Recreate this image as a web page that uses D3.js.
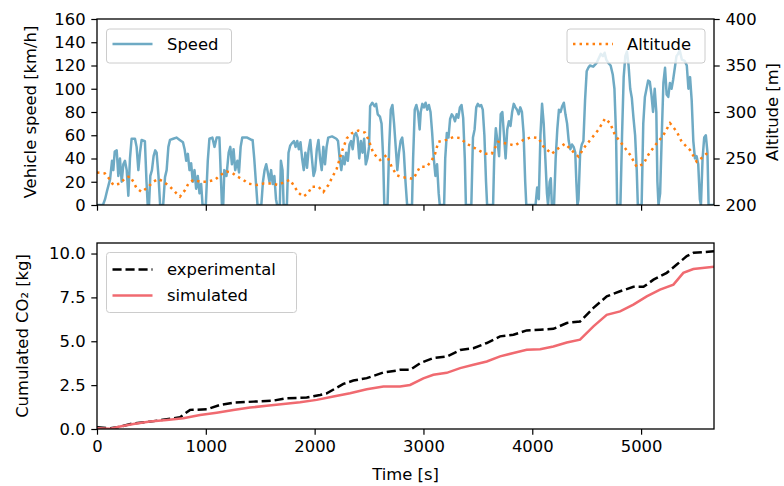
<!DOCTYPE html>
<html>
<head>
<meta charset="utf-8">
<script src="https://cdn.jsdelivr.net/npm/d3@7"></script>
<style>
  body { margin: 0; background: #fff; }
  text { font-family: "DejaVu Sans", sans-serif; fill: #000; }
</style>
</head>
<body>
<div id="chart"></div>
<script>
// Speed [time s, km/h]
var speedSamples = [
  [0,0],[55,0],[74,5],[92,12],[120,22],[138,38],[150,30],[163,46],[181,47],[196,25],[211,40],[227,20],[242,35],[257,38],[273,30],[288,8],[303,40],[318,57],[349,57],[364,50],[380,30],[395,45],[410,56],[440,55],[455,20],[466,0],[478,0],[490,25],[505,30],[520,42],[535,47],[548,45],[565,25],[580,0],[608,0],[625,24],[640,30],[656,50],[671,56],[700,57],[730,58],[760,56],[790,54],[805,48],[820,38],[835,44],[850,30],[865,36],[880,20],[896,30],[911,14],[926,25],[942,10],[957,18],[970,0],[1000,0],[1018,38],[1033,57],[1060,58],[1080,50],[1100,58],[1125,58],[1140,20],[1148,0],[1160,0],[1170,30],[1190,25],[1210,45],[1225,50],[1240,35],[1255,48],[1270,30],[1290,38],[1305,28],[1320,50],[1335,58],[1380,58],[1420,56],
  [1430,56],[1445,40],[1460,20],[1475,0],[1510,0],[1525,20],[1540,30],[1555,35],[1570,28],[1585,20],[1600,30],[1615,18],[1630,25],[1645,5],[1655,0],[1680,0],[1690,38],[1705,30],[1715,0],[1745,0],[1760,45],[1775,51],[1790,53],[1810,55],[1825,50],[1840,55],[1855,48],[1870,54],[1885,40],[1900,30],[1915,45],[1930,32],[1945,48],[1960,56],[1975,40],[1990,25],[2005,30],[2020,48],[2035,56],[2050,40],[2065,30],[2080,50],[2095,35],[2110,50],[2125,58],[2160,59],[2200,57],[2215,55],[2230,40],[2245,30],[2260,42],[2275,35],[2290,45],[2305,38],[2320,52],[2335,55],[2350,48],[2365,60],[2380,62],[2395,58],[2410,40],[2425,55],[2440,45],[2455,57],[2470,35],[2485,40],[2500,50],[2510,85],[2530,88],[2550,85],[2565,87],[2580,78],[2600,76],[2615,70],[2630,40],[2640,0],[2670,0],[2685,50],[2700,82],[2715,86],[2730,70],[2745,50],[2760,30],[2775,45],[2790,55],[2805,58],[2820,45],[2835,20],[2850,0],
  [2895,0],[2905,40],[2920,82],[2935,86],[2950,80],[2965,65],[2975,80],[2990,87],[3005,84],[3020,88],[3035,82],[3050,86],[3065,80],[3080,62],[3095,40],[3110,25],[3125,35],[3140,10],[3150,0],[3190,0],[3200,40],[3215,62],[3230,58],[3245,74],[3260,78],[3275,76],[3290,72],[3305,78],[3320,75],[3335,84],[3350,86],[3365,75],[3380,40],[3390,0],[3440,0],[3455,58],[3470,65],[3485,84],[3500,87],[3515,85],[3530,86],[3545,82],[3560,60],[3575,20],[3585,0],[3640,0],[3650,40],[3665,66],[3680,55],[3695,42],[3710,78],[3725,80],[3740,60],[3755,40],[3770,65],[3785,72],[3800,68],[3815,80],[3830,87],[3845,84],[3860,82],[3875,78],[3890,84],[3905,80],[3920,62],[3935,20],[3945,0],[4030,0],[4045,15],[4060,5],[4075,60],[4090,87],[4105,70],[4120,40],[4135,10],[4145,0],[4160,20],[4170,23],[4180,0],[4200,0],[4215,40],[4230,65],[4245,82],[4260,80],
  [4275,85],[4290,88],[4305,78],[4320,70],[4335,55],[4350,48],[4365,52],[4380,50],[4395,45],[4405,20],[4415,0],[4425,5],[4440,45],[4455,52],[4470,55],[4485,90],[4500,115],[4515,118],[4530,120],[4560,119],[4590,122],[4610,126],[4630,130],[4650,128],[4665,131],[4680,125],[4700,122],[4720,120],[4740,112],[4755,100],[4770,60],[4780,0],[4810,0],[4825,60],[4840,110],[4855,128],[4870,132],[4885,120],[4900,100],[4915,92],[4930,75],[4945,60],[4960,30],[4970,0],[5005,0],[5020,70],[5035,93],[5050,100],[5065,107],[5080,106],[5095,95],[5110,80],[5125,100],[5140,80],[5150,20],[5160,0],[5175,10],[5190,60],[5205,105],[5220,118],[5235,95],[5250,93],[5265,105],[5280,100],[5295,108],[5310,118],[5325,128],[5340,130],[5355,133],[5375,125],[5400,124],[5420,120],[5435,100],[5450,110],[5465,90],[5480,55],[5495,40],[5510,42],[5525,35],[5540,5],[5550,0],[5565,40],[5580,58],[5595,60],[5610,45],[5620,0],[5670,0]
];

// Altitude [time s, m]
var altitudeSamples = [
  [0,235],[73,234],[120,227],[150,221.5],[211,223],[257,228.7],[303,231],[334,225],[364,218],[410,214],[472,219.7],[518,225],[564,228],[610,225],[671,219.7],[717,214],[763,209],[809,216],[840,223],[885,227],[947,225],[1008,225],[1084,227],[1130,232],[1192,236],[1238,235],[1283,231],[1345,227],[1391,223],[1468,221.5],[1529,223],[1605,223],[1667,221.5],[1728,225],[1774,227],[1805,221.5],[1851,213],[1896,209],[1942,213],[1973,219.7],[2034,219.7],[2080,214],[2126,221.5],[2157,228.7],[2203,239],[2249,257],[2295,271.7],[2341,277],[2402,280],[2463,277.8],[2494,270.6],[2540,255.6],[2601,248.4],[2662,253.8],[2708,241],[2754,232],[2800,230],[2861,229],[2907,228],[2968,241],[3030,241],[3076,248],[3107,255],[3137,268],[3213,270],[3275,273],[3336,272],[3397,266],[3443,263],[3505,259],[3566,255],[3627,255],[3688,268],[3765,266],[3841,264],[3918,270],[3995,273],[4056,272],[4102,263],[4179,255],[4240,261],[4301,266],[4378,257],[4424,252],[4485,263],[4547,272],[4608,281],[4669,293],[4715,288],[4761,275],[4822,266],[4899,254],[4960,241],[5021,244],[5067,254],[5128,264],[5205,275],[5266,288],[5327,279],[5373,268],[5450,259],[5511,246.6],[5572,252],[5618,257]
];

// Cumulated CO2 [time s, kg]
var co2Experimental = [
  [0,0.1],[123,0.04],[212,0.13],[334,0.32],[487,0.42],[640,0.55],[763,0.67],[855,1.09],[1008,1.12],[1131,1.37],[1253,1.5],[1437,1.56],[1621,1.62],[1743,1.75],[1927,1.79],[2050,1.94],[2111,2.03],[2264,2.57],[2356,2.76],[2479,2.9],[2632,3.22],[2754,3.33],[2785,3.37],[2877,3.37],[2969,3.75],[3091,4.04],[3214,4.13],[3337,4.5],[3459,4.6],[3582,4.9],[3704,5.28],[3827,5.37],[3949,5.62],[4072,5.66],[4194,5.71],[4317,6.04],[4439,6.13],[4562,6.9],[4685,7.56],[4807,7.85],[4930,8.1],[5022,8.1],[5114,8.51],[5236,8.9],[5328,9.37],[5420,9.85],[5481,10.04],[5670,10.13]
];
var co2Simulated = [
  [0,0.04],[123,0.02],[212,0.14],[334,0.29],[487,0.43],[640,0.51],[793,0.61],[947,0.8],[1100,0.93],[1253,1.08],[1406,1.22],[1559,1.33],[1713,1.43],[1866,1.52],[2019,1.66],[2172,1.85],[2325,2.04],[2479,2.27],[2632,2.42],[2724,2.42],[2785,2.42],[2877,2.51],[2999,2.89],[3091,3.09],[3214,3.2],[3337,3.47],[3459,3.66],[3582,3.85],[3704,4.14],[3827,4.33],[3949,4.51],[4072,4.55],[4194,4.7],[4317,4.93],[4439,5.09],[4562,5.85],[4684,6.51],[4807,6.7],[4929,7.09],[5052,7.56],[5174,7.94],[5297,8.23],[5388,8.9],[5480,9.12],[5670,9.24]
];

var timeTicks = [0, 1000, 2000, 3000, 4000, 5000];
var speedTicks = [0, 20, 40, 60, 80, 100, 120, 140, 160];
var altitudeTicks = [200, 250, 300, 350, 400];
var co2Ticks = [0, 2.5, 5, 7.5, 10];

// Layout
var fontSize = 16.4;
var left = 97, right = 714;
var top1 = 19, bottom1 = 205;
var top2 = 243, bottom2 = 429;
var tickLen = 5.7, tickPad = 5.7;

var svg = d3.select("#chart").append("svg")
    .attr("width", 784)
    .attr("height", 486);

var xScale = d3.scaleLinear().domain([0, 5670]).range([left, right]);
var ySpeed = d3.scaleLinear().domain([0, 160]).range([bottom1, top1]);
var yAlt = d3.scaleLinear().domain([200, 400]).range([bottom1, top1]);
var yCo2 = d3.scaleLinear().domain([0, 10.6]).range([bottom2, top2]);

svg.append("clipPath").attr("id", "clip1")
    .append("rect").attr("x", left).attr("y", top1).attr("width", right - left).attr("height", bottom1 - top1);
svg.append("clipPath").attr("id", "clip2")
    .append("rect").attr("x", left).attr("y", top2).attr("width", right - left).attr("height", bottom2 - top2);

function styleAxis(g) {
    g.select(".domain").remove();
    g.selectAll(".tick line").attr("stroke", "#000").attr("stroke-width", 1.2);
    g.selectAll(".tick text").attr("font-size", fontSize).attr("font-family", "DejaVu Sans").attr("fill", "#000");
}

// Top plot: speed
var speedLine = d3.line()
    .x(function(d) { return xScale(d[0]); })
    .y(function(d) { return ySpeed(d[1]); });

svg.append("path")
    .datum(speedSamples)
    .attr("clip-path", "url(#clip1)")
    .attr("fill", "none")
    .attr("stroke", "#6eaac4")
    .attr("stroke-width", 2.5)
    .attr("stroke-linejoin", "round")
    .attr("d", speedLine);

// Speed legend
var leg1 = svg.append("g");
leg1.append("rect").attr("x", 106.5).attr("y", 29).attr("width", 125).attr("height", 34)
    .attr("rx", 3).attr("fill", "#fff").attr("fill-opacity", 0.8).attr("stroke", "#cccccc");
leg1.append("line").attr("x1", 112.5).attr("x2", 152.5).attr("y1", 44).attr("y2", 44)
    .attr("stroke", "#6eaac4").attr("stroke-width", 2.5);
leg1.append("text").attr("x", 167).attr("y", 44).attr("dy", "0.35em").attr("font-size", fontSize).text("Speed");

// Altitude (twin axis)
var altLine = d3.line()
    .x(function(d) { return xScale(d[0]); })
    .y(function(d) { return yAlt(d[1]); });

svg.append("path")
    .datum(altitudeSamples)
    .attr("clip-path", "url(#clip1)")
    .attr("fill", "none")
    .attr("stroke", "#ff7f0e")
    .attr("stroke-width", 2.5)
    .attr("stroke-dasharray", "2.46,4.06")
    .attr("d", altLine);

var leg2 = svg.append("g");
leg2.append("rect").attr("x", 567).attr("y", 29).attr("width", 138).attr("height", 34)
    .attr("rx", 3).attr("fill", "#fff").attr("fill-opacity", 0.8).attr("stroke", "#cccccc");
leg2.append("line").attr("x1", 573).attr("x2", 613).attr("y1", 44).attr("y2", 44)
    .attr("stroke", "#ff7f0e").attr("stroke-width", 2.5).attr("stroke-dasharray", "2.46,4.06");
leg2.append("text").attr("x", 627).attr("y", 44).attr("dy", "0.35em").attr("font-size", fontSize).text("Altitude");

// Top axes
svg.append("g")
    .attr("transform", "translate(0," + bottom1 + ")")
    .call(d3.axisBottom(xScale).tickValues(timeTicks).tickFormat("").tickSize(tickLen).tickSizeOuter(0))
    .call(styleAxis);

svg.append("g")
    .attr("transform", "translate(" + left + ",0)")
    .call(d3.axisLeft(ySpeed).tickValues(speedTicks).tickFormat(d3.format("d")).tickSize(tickLen).tickPadding(tickPad))
    .call(styleAxis);

svg.append("g")
    .attr("transform", "translate(" + right + ",0)")
    .call(d3.axisRight(yAlt).tickValues(altitudeTicks).tickFormat(d3.format("d")).tickSize(tickLen).tickPadding(tickPad))
    .call(styleAxis);

svg.append("rect").attr("x", left).attr("y", top1).attr("width", right - left).attr("height", bottom1 - top1)
    .attr("fill", "none").attr("stroke", "#000").attr("stroke-width", 1.3);

// Bottom plot: cumulated CO2
var co2Line = d3.line()
    .x(function(d) { return xScale(d[0]); })
    .y(function(d) { return yCo2(d[1]); });

svg.append("path")
    .datum(co2Experimental)
    .attr("clip-path", "url(#clip2)")
    .attr("fill", "none")
    .attr("stroke", "#000")
    .attr("stroke-width", 2.5)
    .attr("stroke-dasharray", "9.1,3.9")
    .attr("d", co2Line);

svg.append("path")
    .datum(co2Simulated)
    .attr("clip-path", "url(#clip2)")
    .attr("fill", "none")
    .attr("stroke", "#f06a70")
    .attr("stroke-width", 2.5)
    .attr("d", co2Line);

var leg3 = svg.append("g");
leg3.append("rect").attr("x", 106.5).attr("y", 252.5).attr("width", 190).attr("height", 60)
    .attr("rx", 3).attr("fill", "#fff").attr("fill-opacity", 0.8).attr("stroke", "#cccccc");
leg3.append("line").attr("x1", 112.5).attr("x2", 152.5).attr("y1", 269.5).attr("y2", 269.5)
    .attr("stroke", "#000").attr("stroke-width", 2.5).attr("stroke-dasharray", "9.1,3.9");
leg3.append("text").attr("x", 167).attr("y", 269.5).attr("dy", "0.35em").attr("font-size", fontSize).text("experimental");
leg3.append("line").attr("x1", 112.5).attr("x2", 152.5).attr("y1", 295.5).attr("y2", 295.5)
    .attr("stroke", "#f06a70").attr("stroke-width", 2.5);
leg3.append("text").attr("x", 167).attr("y", 295.5).attr("dy", "0.35em").attr("font-size", fontSize).text("simulated");

svg.append("g")
    .attr("transform", "translate(0," + bottom2 + ")")
    .call(d3.axisBottom(xScale).tickValues(timeTicks).tickFormat(d3.format("d")).tickSize(tickLen).tickPadding(tickPad))
    .call(styleAxis);

svg.append("g")
    .attr("transform", "translate(" + left + ",0)")
    .call(d3.axisLeft(yCo2).tickValues(co2Ticks).tickFormat(d3.format(".1f")).tickSize(tickLen).tickPadding(tickPad))
    .call(styleAxis);

svg.append("rect").attr("x", left).attr("y", top2).attr("width", right - left).attr("height", bottom2 - top2)
    .attr("fill", "none").attr("stroke", "#000").attr("stroke-width", 1.3);

// Axis labels
svg.append("text")
    .attr("transform", "translate(30," + ((top1 + bottom1) / 2) + ") rotate(-90)")
    .attr("text-anchor", "middle").attr("dy", "0.35em").attr("font-size", fontSize)
    .text("Vehicle speed [km/h]");

svg.append("text")
    .attr("transform", "translate(772," + ((top1 + bottom1) / 2) + ") rotate(-90)")
    .attr("text-anchor", "middle").attr("dy", "0.35em").attr("font-size", fontSize)
    .text("Altitude [m]");

svg.append("text")
    .attr("transform", "translate(22," + ((top2 + bottom2) / 2) + ") rotate(-90)")
    .attr("text-anchor", "middle").attr("dy", "0.35em").attr("font-size", fontSize)
    .text("Cumulated CO\u2082 [kg]");

svg.append("text")
    .attr("x", (left + right) / 2).attr("y", 474)
    .attr("text-anchor", "middle").attr("dy", "0.35em").attr("font-size", fontSize)
    .text("Time [s]");
</script>
</body>
</html>
